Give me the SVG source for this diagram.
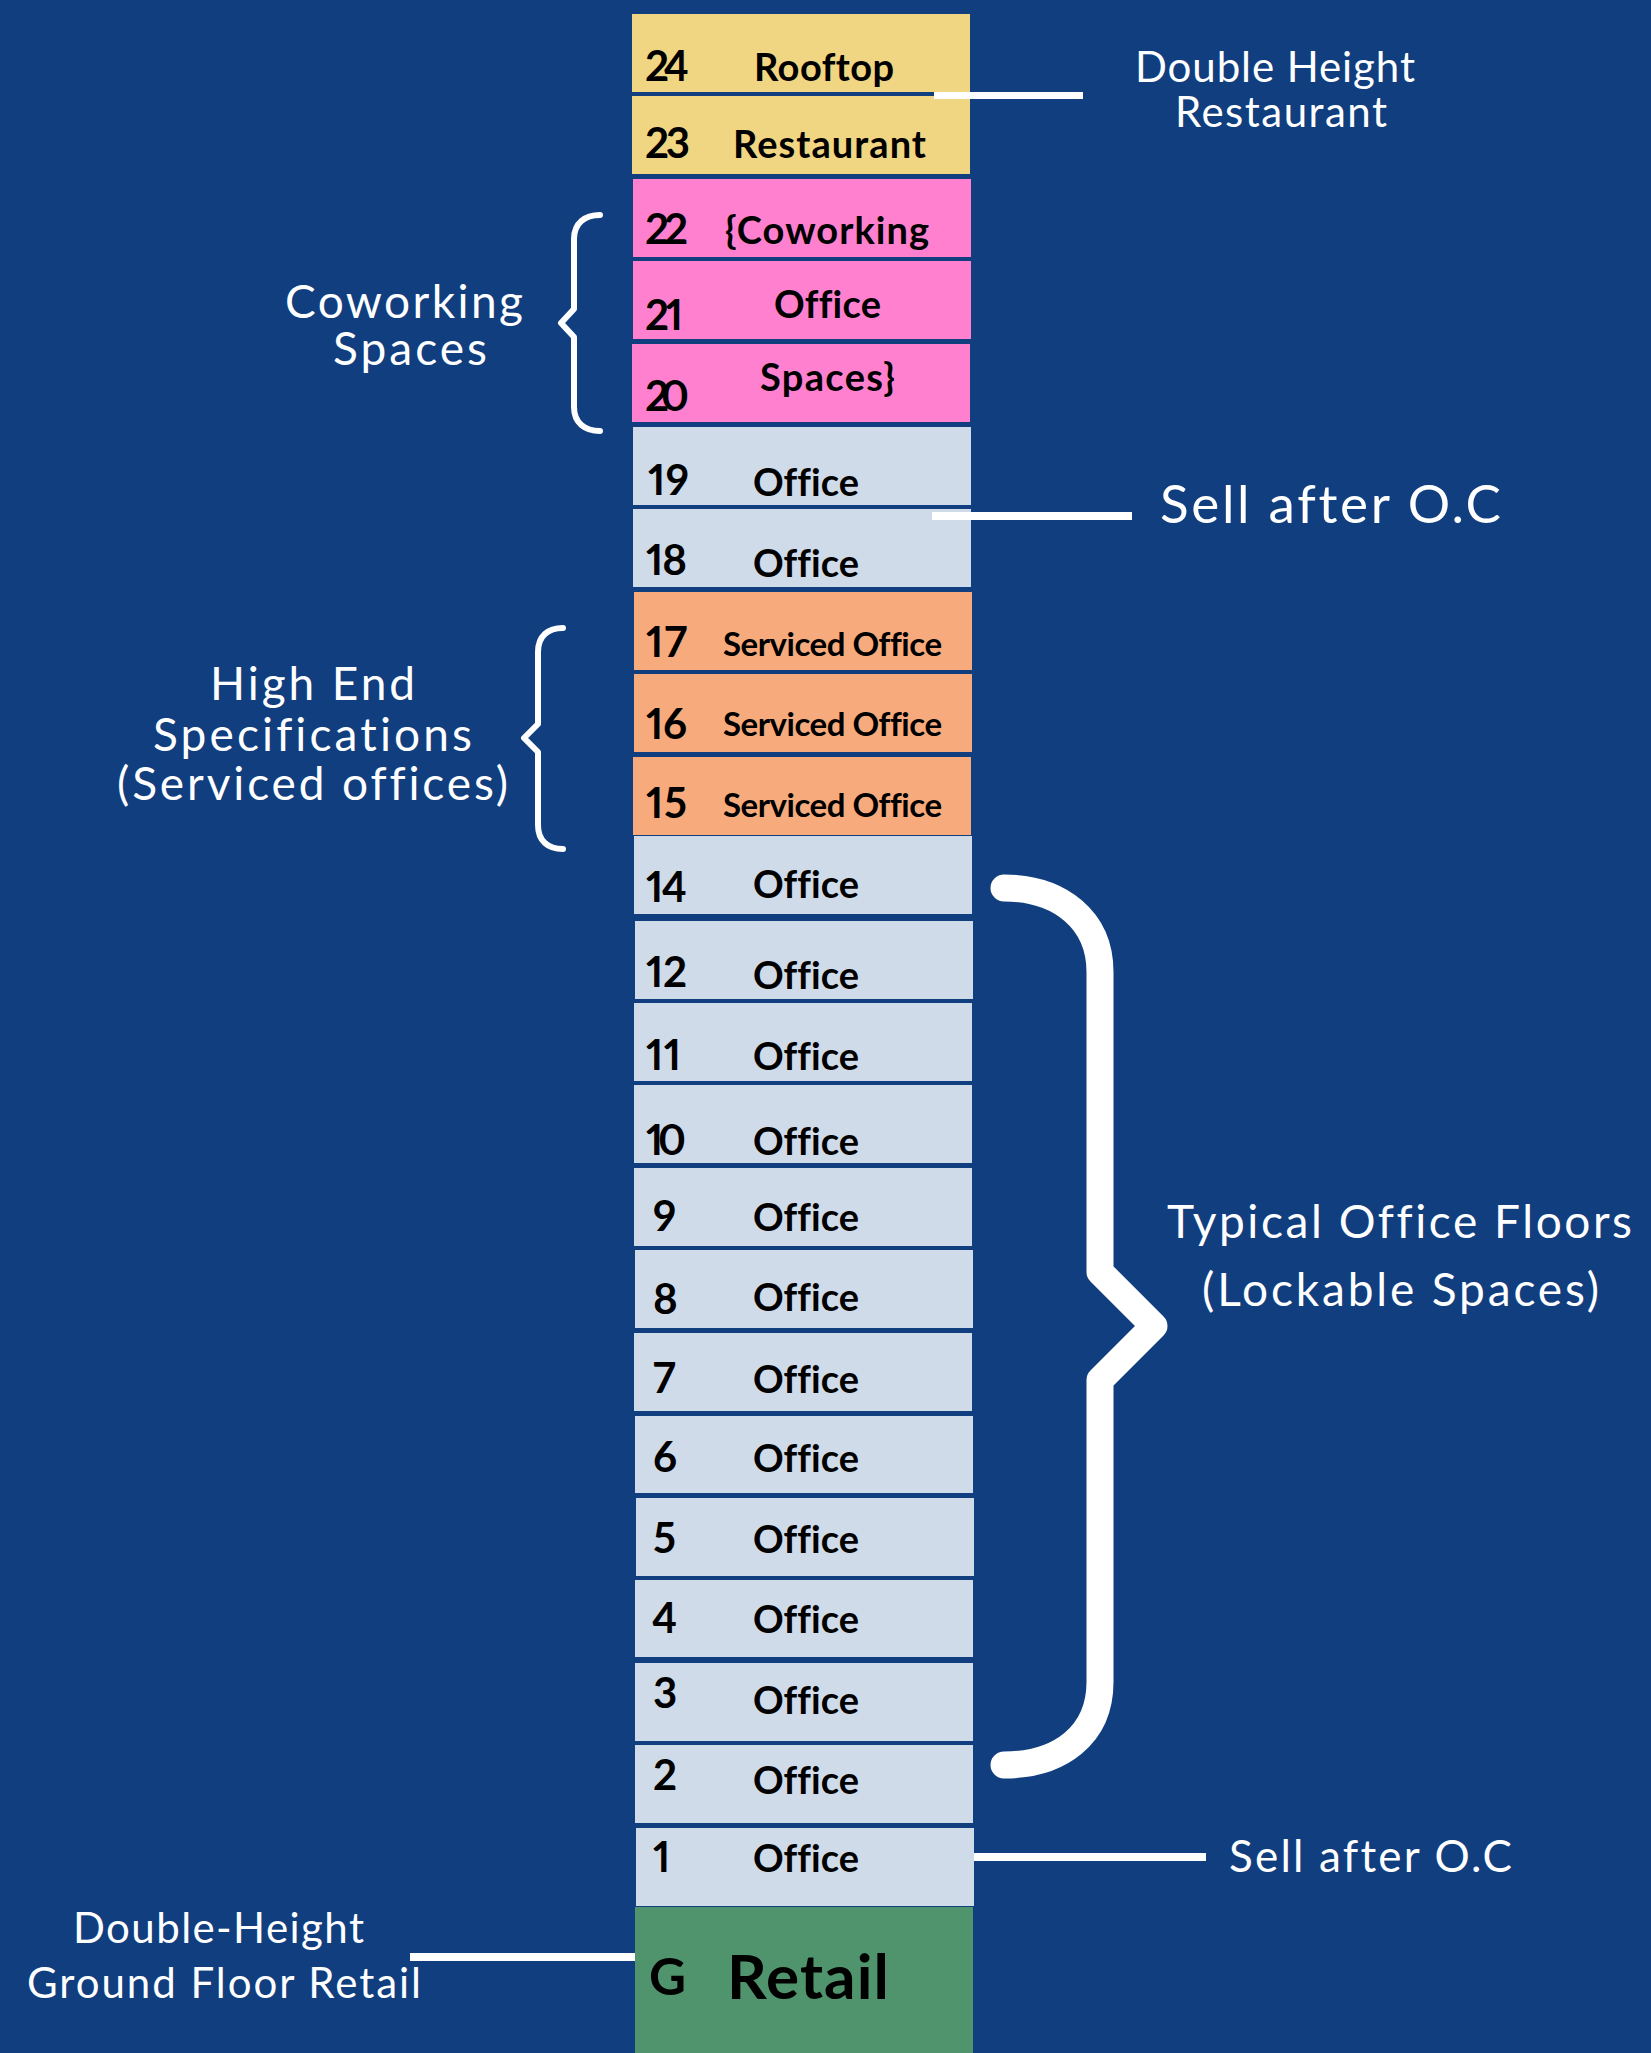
<svg xmlns="http://www.w3.org/2000/svg" width="1651" height="2053" viewBox="0 0 1651 2053">
<style>
text{font-variant-ligatures:none;font-feature-settings:"liga" 0,"pnum" 1}
.yel{fill:#f0d582}.pnk{fill:#ff80cf}.lgt{fill:#cfdbe8}.org{fill:#f7ab7d}.grn{fill:#4f946d}
.num{font-family:Lato,"Open Sans",sans-serif;font-weight:700;font-size:42px;fill:#000}
.lab{font-family:Lato,"Open Sans",sans-serif;font-weight:700;font-size:38px;fill:#000}
.srv{font-family:Lato,"Open Sans",sans-serif;font-weight:700;font-size:33px;fill:#000}
.wt{font-family:Lato,"Open Sans",sans-serif;font-weight:400;fill:#fff}
.ln{stroke:#fff;stroke-width:8;fill:none}
.br{stroke:#fff;fill:none;stroke-linecap:round;stroke-linejoin:round}
</style>
<rect width="1651" height="2053" fill="#103e7f"/>

<g id="floor-24"><rect class="yel" x="632" y="14" width="338" height="78"/><text class="num" x="645" y="81" textLength="44">24</text><text class="lab" x="754" y="81" textLength="140">Rooftop</text></g>
<g id="floor-23"><rect class="yel" x="632" y="96" width="338" height="78"/><text class="num" x="645" y="158" textLength="45">23</text><text class="lab" x="733" y="158" textLength="193">Restaurant</text></g>
<g id="floor-22"><rect class="pnk" x="633" y="179" width="338" height="78"/><text class="num" x="645" y="244" textLength="43">22</text><text class="lab" x="725" y="244" textLength="204">{Coworking</text></g>
<g id="floor-21"><rect class="pnk" x="633" y="261" width="338" height="78"/><text class="num" x="645" y="330" textLength="38">21</text><text class="lab" x="774" y="318" textLength="107">Office</text></g>
<g id="floor-20"><rect class="pnk" x="632" y="344" width="338" height="78"/><text class="num" x="645" y="411" textLength="44">20</text><text class="lab" x="760" y="391" textLength="135">Spaces}</text></g>
<g id="floor-19"><rect class="lgt" x="633" y="427" width="338" height="78"/><text class="num" x="648" y="495" textLength="41">19</text><text class="lab" x="753" y="496" textLength="106">Office</text></g>
<g id="floor-18"><rect class="lgt" x="633" y="509" width="338" height="78"/><text class="num" x="646" y="575" textLength="41">18</text><text class="lab" x="753" y="577" textLength="106">Office</text></g>
<g id="floor-17"><rect class="org" x="634" y="592" width="338" height="78"/><text class="num" x="646" y="657" textLength="41">17</text><text class="srv" x="723" y="656" textLength="219">Serviced Office</text></g>
<g id="floor-16"><rect class="org" x="634" y="674" width="338" height="78"/><text class="num" x="646" y="739" textLength="41">16</text><text class="srv" x="723" y="736" textLength="219">Serviced Office</text></g>
<g id="floor-15"><rect class="org" x="633" y="757" width="338" height="78"/><text class="num" x="646" y="818" textLength="41">15</text><text class="srv" x="723" y="817" textLength="219">Serviced Office</text></g>
<g id="floor-14"><rect class="lgt" x="634" y="836" width="338" height="78"/><text class="num" x="646" y="902" textLength="41">14</text><text class="lab" x="753" y="898" textLength="106">Office</text></g>
<g id="floor-12"><rect class="lgt" x="635" y="921" width="338" height="78"/><text class="num" x="646" y="987" textLength="41">12</text><text class="lab" x="753" y="989" textLength="106">Office</text></g>
<g id="floor-11"><rect class="lgt" x="634" y="1003" width="338" height="78"/><text class="num" x="646" y="1070" textLength="35">11</text><text class="lab" x="753" y="1070" textLength="106">Office</text></g>
<g id="floor-10"><rect class="lgt" x="634" y="1085" width="338" height="78"/><text class="num" x="646" y="1155" textLength="40">10</text><text class="lab" x="753" y="1155" textLength="106">Office</text></g>
<g id="floor-9"><rect class="lgt" x="634" y="1168" width="338" height="78"/><text class="num" x="653" y="1231">9</text><text class="lab" x="753" y="1231" textLength="106">Office</text></g>
<g id="floor-8"><rect class="lgt" x="635" y="1250" width="338" height="78"/><text class="num" x="653" y="1314">8</text><text class="lab" x="753" y="1311" textLength="106">Office</text></g>
<g id="floor-7"><rect class="lgt" x="634" y="1333" width="338" height="78"/><text class="num" x="653" y="1393">7</text><text class="lab" x="753" y="1393" textLength="106">Office</text></g>
<g id="floor-6"><rect class="lgt" x="635" y="1416" width="338" height="77"/><text class="num" x="653" y="1472">6</text><text class="lab" x="753" y="1472" textLength="106">Office</text></g>
<g id="floor-5"><rect class="lgt" x="636" y="1498" width="338" height="78"/><text class="num" x="653" y="1553">5</text><text class="lab" x="753" y="1553" textLength="106">Office</text></g>
<g id="floor-4"><rect class="lgt" x="635" y="1580" width="338" height="77"/><text class="num" x="652" y="1633">4</text><text class="lab" x="753" y="1633" textLength="106">Office</text></g>
<g id="floor-3"><rect class="lgt" x="635" y="1663" width="338" height="78"/><text class="num" x="653" y="1708">3</text><text class="lab" x="753" y="1714" textLength="106">Office</text></g>
<g id="floor-2"><rect class="lgt" x="635" y="1745" width="338" height="78"/><text class="num" x="653" y="1790">2</text><text class="lab" x="753" y="1794" textLength="106">Office</text></g>
<g id="floor-1"><rect class="lgt" x="636" y="1828" width="338" height="78"/><text class="num" x="653" y="1872">1</text><text class="lab" x="753" y="1872" textLength="106">Office</text></g>
<g id="floor-G"><rect class="grn" x="635" y="1907" width="338" height="146"/><text class="num" x="649" y="1995" style="font-size:51px" textLength="36">G</text><text class="lab" x="727" y="1999" style="font-size:62px" textLength="162">Retail</text></g>

<g id="connectors">
<line class="ln" x1="934" y1="95.5" x2="1083" y2="95.5" style="stroke-width:7"/>
<line class="ln" x1="932" y1="516" x2="1132" y2="516"/>
<line class="ln" x1="974" y1="1857" x2="1206" y2="1857"/>
<line class="ln" x1="410" y1="1957" x2="635" y2="1957"/>
<path class="br" style="stroke-width:6" d="M600,215 C585,215 574,223 574,239 L574,309 L561,323 L574,337 L574,407 C574,423 585,431 600,431"/>
<path class="br" style="stroke-width:6" d="M563,628 C548,628 538,636 538,652 L538,724 L524,738 L538,752 L538,825 C538,841 548,849 563,849"/>
<path class="br" style="stroke-width:27" d="M1004,888 C1060,888 1100,920 1100,972 L1100,1272 L1154,1326 L1100,1380 L1100,1682 C1100,1735 1060,1765 1004,1765"/>
</g>

<g id="label-double-height-restaurant"><text class="wt" style="font-size:42px" x="1135" y="82" textLength="280">Double Height</text><text class="wt" style="font-size:42px" x="1175" y="127" textLength="212">Restaurant</text></g>
<g id="label-coworking"><text class="wt" style="font-size:46px" x="285" y="318" textLength="238">Coworking</text><text class="wt" style="font-size:46px" x="333" y="365" textLength="154">Spaces</text></g>
<g id="label-sell-top"><text class="wt" style="font-size:53px" x="1160" y="523" textLength="341">Sell after O.C</text></g>
<g id="label-high-end"><text class="wt" style="font-size:46px" x="210" y="700" textLength="205">High End</text><text class="wt" style="font-size:46px" x="153" y="751" textLength="319">Specifications</text><text class="wt" style="font-size:46px" x="117" y="800" textLength="391">(Serviced offices)</text></g>
<g id="label-typical"><text class="wt" style="font-size:46px" x="1167" y="1238" textLength="465">Typical Office Floors</text><text class="wt" style="font-size:46px" x="1202" y="1306" textLength="397">(Lockable Spaces)</text></g>
<g id="label-sell-bottom"><text class="wt" style="font-size:44px" x="1229" y="1872" textLength="283">Sell after O.C</text></g>
<g id="label-ground"><text class="wt" style="font-size:42px" x="73" y="1943" textLength="291">Double-Height</text><text class="wt" style="font-size:42px" x="27" y="1998" textLength="394">Ground Floor Retail</text></g>
</svg>
